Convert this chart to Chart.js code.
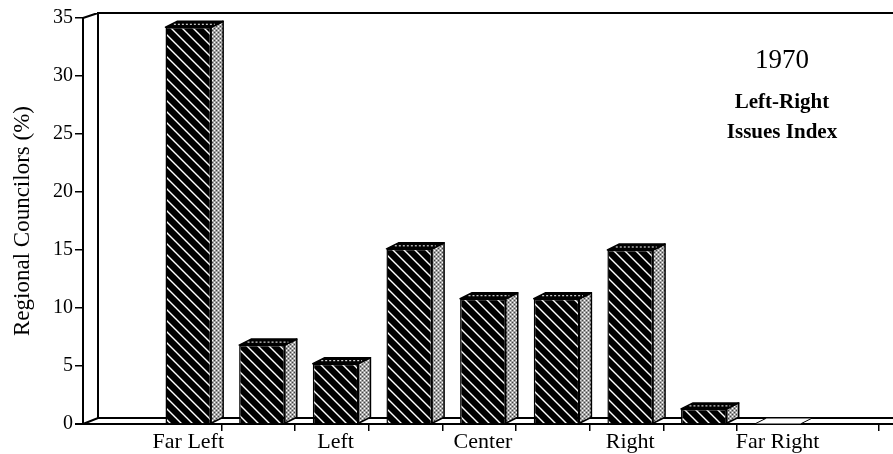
<!DOCTYPE html>
<html>
<head>
<meta charset="utf-8">
<script src="https://cdn.jsdelivr.net/npm/chart.js@4.4.0/dist/chart.umd.min.js"></script>
<style>
html, body { margin: 0; padding: 0; background: #fff; }
#wrap { width: 893px; height: 454px; position: relative; }
</style>
</head>
<body>
<div id="wrap"><canvas id="grafico"></canvas></div>
<script>
// categorias (solo una de cada dos lleva nombre)
const categorias = ['Far Left', '', 'Left', '', 'Center', '', 'Right', '', 'Far Right'];
// porcentaje de consejeros regionales
const valores = [34.2, 6.8, 5.2, 15.1, 10.8, 10.8, 15.0, 1.3, 0];
const ticksY = [0, 5, 10, 15, 20, 25, 30, 35];
const rotulo = ['1970', 'Left-Right', 'Issues Index'];

const canvas = document.getElementById('grafico');
const ctx0 = canvas.getContext('2d');

function patronRayado() {
    const c = document.createElement('canvas');
    c.width = 11; c.height = 11;
    const g = c.getContext('2d');
    g.fillStyle = '#000';
    g.fillRect(0, 0, 11, 11);
    g.strokeStyle = '#fff';
    g.lineWidth = 1.4;
    g.beginPath();
    g.moveTo(-2, -2); g.lineTo(13, 13);
    g.moveTo(-2, 9); g.lineTo(2, 13);
    g.moveTo(9, -2); g.lineTo(13, 2);
    g.stroke();
    return ctx0.createPattern(c, 'repeat');
}

function patronPunteado() {
    const c = document.createElement('canvas');
    c.width = 4; c.height = 4;
    const g = c.getContext('2d');
    g.fillStyle = '#a4a4a4';
    g.fillRect(0, 0, 4, 4);
    g.fillStyle = '#fff';
    g.fillRect(0, 0, 1, 1); g.fillRect(2, 2, 1, 1);
    g.fillStyle = '#444';
    g.fillRect(2, 0, 1, 1); g.fillRect(0, 2, 1, 1);
    return ctx0.createPattern(c, 'repeat');
}

const rayado = patronRayado();
const punteado = patronPunteado();
const fuente = '"Liberation Serif", "Times New Roman", serif';

// dibuja la caja 3D, las caras laterales de las barras y el rótulo
const caja3d = {
    id: 'caja3d',
    beforeDatasetsDraw(chart) {
        const { ctx, chartArea: a } = chart;
        const dx = 15, dy = 6;
        ctx.save();
        ctx.strokeStyle = '#000';
        ctx.lineWidth = 2;
        ctx.beginPath();
        ctx.moveTo(a.left + dx, a.bottom - dy);
        ctx.lineTo(a.left + dx, a.top - 5);
        ctx.lineTo(chart.width, a.top - 5);
        ctx.moveTo(a.left, a.top);
        ctx.lineTo(a.left + dx, a.top - 5);
        ctx.moveTo(a.left, a.bottom);
        ctx.lineTo(a.left + dx, a.bottom - dy);
        ctx.lineTo(chart.width, a.bottom - dy);
        ctx.moveTo(a.left - 8, a.bottom);
        ctx.lineTo(chart.width, a.bottom);
        ctx.stroke();
        ctx.restore();
    },
    afterDatasetsDraw(chart) {
        const ctx = chart.ctx;
        const dx = 12, dy = 6;
        ctx.save();
        ctx.strokeStyle = '#000';
        ctx.lineJoin = 'round';
        chart.getDatasetMeta(0).data.forEach(bar => {
            const { x, y, base, width } = bar.getProps(['x', 'y', 'base', 'width'], true);
            const l = x - width / 2, r = x + width / 2;
            const plano = base - y < 1;
            // cara lateral
            if (!plano) {
                ctx.beginPath();
                ctx.moveTo(r, y);
                ctx.lineTo(r + dx, y - dy);
                ctx.lineTo(r + dx, base - dy);
                ctx.lineTo(r, base);
                ctx.closePath();
                ctx.fillStyle = punteado;
                ctx.fill();
                ctx.lineWidth = 1.5;
                ctx.stroke();
            }
            // tapa
            ctx.beginPath();
            ctx.moveTo(l, y);
            ctx.lineTo(l + dx, y - dy);
            ctx.lineTo(r + dx, y - dy);
            ctx.lineTo(r, y);
            ctx.closePath();
            ctx.fillStyle = plano ? '#fff' : '#000';
            ctx.fill();
            ctx.lineWidth = plano ? 1 : 1.5;
            ctx.stroke();
            if (!plano) {
                ctx.save();
                ctx.strokeStyle = '#fff';
                ctx.lineWidth = 1;
                ctx.setLineDash([2, 2]);
                ctx.beginPath();
                ctx.moveTo(l + dx * 0.7, y - dy / 2);
                ctx.lineTo(r + dx * 0.3, y - dy / 2);
                ctx.stroke();
                ctx.restore();
            }
        });
        ctx.restore();
    },
    afterDraw(chart) {
        const ctx = chart.ctx;
        ctx.save();
        ctx.fillStyle = '#000';
        ctx.textAlign = 'center';
        ctx.textBaseline = 'alphabetic';
        ctx.font = '27px ' + fuente;
        ctx.fillText(rotulo[0], 782, 68);
        ctx.font = 'bold 21px ' + fuente;
        ctx.fillText(rotulo[1], 782, 108);
        ctx.fillText(rotulo[2], 782, 138);
        ctx.restore();
    }
};

new Chart(canvas, {
    type: 'bar',
    data: {
        datasets: [{
            data: valores.map((v, i) => ({ x: i + 1, y: v })),
            backgroundColor: rayado,
            borderColor: '#000',
            borderWidth: 1.5,
            barPercentage: 0.62,
            categoryPercentage: 1
        }]
    },
    options: {
        responsive: true,
        maintainAspectRatio: false,
        animation: false,
        layout: { padding: { top: 18, right: 5, left: 0, bottom: 0 } },
        plugins: {
            legend: { display: false },
            tooltip: { enabled: false }
        },
        scales: {
            x: {
                type: 'linear',
                position: 'bottom',
                offset: false,
                weight: 1,
                min: -0.43,
                max: 10.5,
                afterBuildTicks: s => { s.ticks = categorias.map((c, i) => ({ value: i + 1 })); },
                afterFit: s => { s.height = 22; },
                grid: { display: false, offset: false },
                border: { display: false },
                ticks: {
                    autoSkip: false,
                    maxRotation: 0,
                    padding: -11,
                    color: '#000',
                    font: { family: fuente, size: 22 },
                    callback: v => categorias[Math.round(v) - 1] || ''
                }
            },
            x2: {
                type: 'linear',
                position: 'bottom',
                offset: false,
                weight: 0,
                min: -0.43,
                max: 10.5,
                afterBuildTicks: s => {
                    s.ticks = categorias.slice(0, -1).map((c, i) => ({ value: i + 1.45 })).concat([{ value: 10.38 }]);
                },
                afterFit: s => { s.height = 8; },
                grid: { drawOnChartArea: false, offset: false, tickLength: 7, color: '#000', lineWidth: 1.5 },
                border: { display: false },
                ticks: { callback: () => '', padding: 0 }
            },
            y: {
                min: 0,
                max: 35,
                afterBuildTicks: s => { s.ticks = ticksY.map(v => ({ value: v })); },
                afterFit: s => { s.width = 83; },
                grid: { drawOnChartArea: false, tickLength: 8, color: '#000', lineWidth: 1.5 },
                border: { display: true, color: '#000', width: 2 },
                ticks: { color: '#000', padding: 2, font: { family: fuente, size: 20 } },
                title: {
                    display: true,
                    text: 'Regional Councilors (%)',
                    color: '#000',
                    padding: 9,
                    font: { family: fuente, size: 23 }
                }
            }
        }
    },
    plugins: [caja3d]
});
</script>
</body>
</html>
